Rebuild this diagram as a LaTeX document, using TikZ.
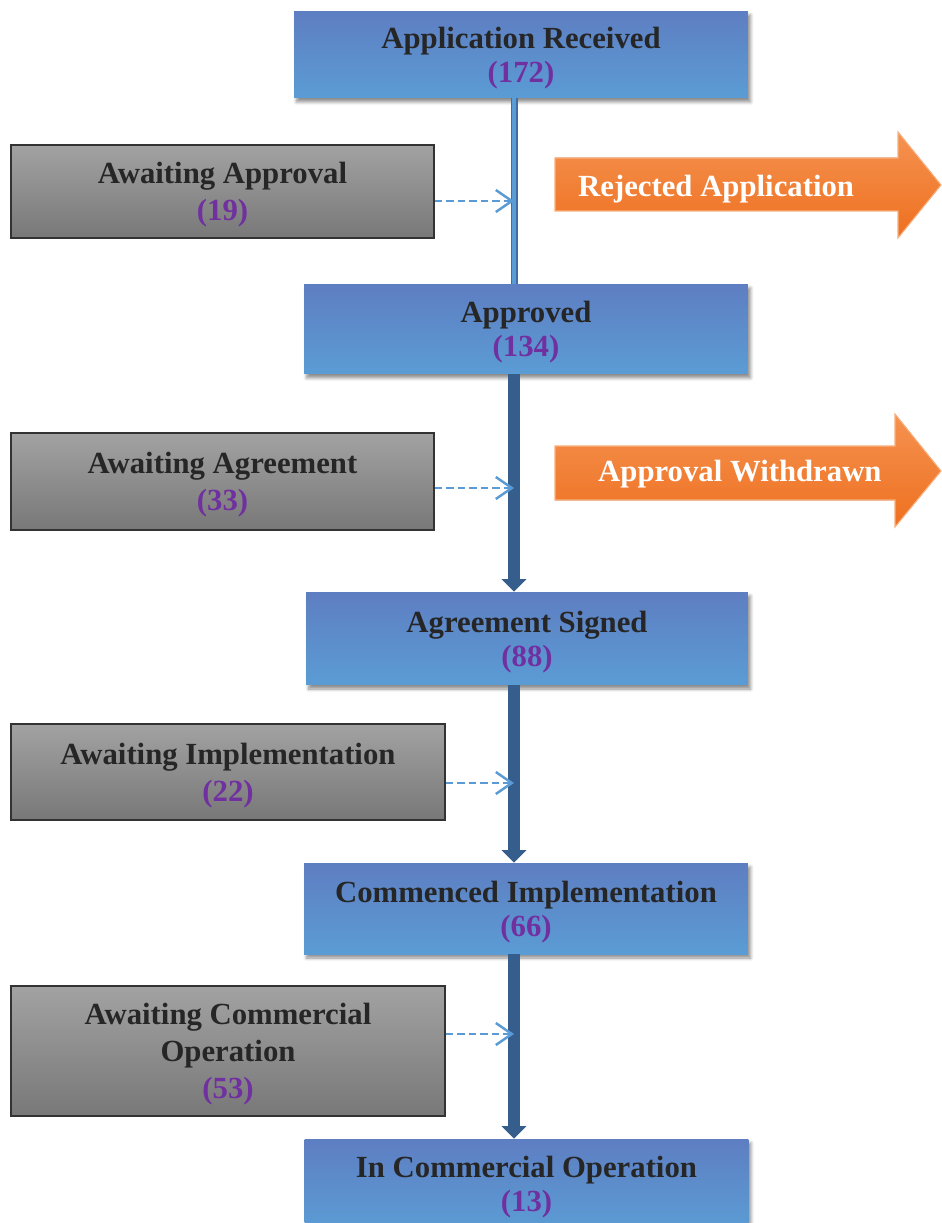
\documentclass[tikz,border=0pt]{standalone}
\usepackage{xcolor}
\usepackage{tikz}
\usepackage{fontspec}
\setmainfont{Liberation Serif}
\usetikzlibrary{arrows.meta,positioning,calc,shadows.blur}
\definecolor{stageTop}{RGB}{94,126,194}
\definecolor{stageBottom}{RGB}{91,156,213}
\definecolor{waitTop}{RGB}{162,162,162}
\definecolor{waitBottom}{RGB}{120,120,120}
\definecolor{countPurple}{RGB}{112,48,160}
\definecolor{labelDark}{RGB}{38,38,38}
\definecolor{spineDark}{RGB}{54,94,141}
\definecolor{spineEdge}{RGB}{62,110,165}
\definecolor{feedBlue}{RGB}{91,155,213}
\definecolor{exitTop}{RGB}{245,146,80}
\definecolor{exitBottom}{RGB}{238,112,32}
\definecolor{exitEdge}{RGB}{249,176,126}
\newcommand{\cnt}[1]{\textcolor{countPurple}{(#1)}}

\begin{document}
\begin{tikzpicture}[
  x=0.02cm,y=-0.02cm,
  stage/.style={rectangle,minimum width=8.88cm,minimum height=1.8cm,align=center,
    top color=stageTop,bottom color=stageBottom,text=labelDark,text depth=-0.8pt,
    font=\bfseries\fontsize{17.5}{19.5}\selectfont,
    blur shadow={shadow xshift=0.05cm,shadow yshift=-0.08cm,shadow opacity=45,shadow blur steps=6}},
  wait/.style={draw=black!80,line width=0.8pt,rectangle,minimum width=8.46cm,minimum height=1.86cm,align=center,
    top color=waitTop,bottom color=waitBottom,text=labelDark,text depth=-1.8pt,
    font=\bfseries\fontsize{17.5}{21}\selectfont},
  exit/.style={draw=exitEdge,line width=0.6pt,top color=exitTop,bottom color=exitBottom},
  exittext/.style={anchor=west,text=white,font=\bfseries\fontsize{17.5}{19.5}\selectfont},
  flow/.style={draw=spineDark,line width=0.24cm,-{Triangle[width=0.48cm,length=0.25cm]}},
  link/.style={draw=spineEdge,line width=1pt,double=stageBottom,double distance=0.07cm},
  feed/.style={feedBlue,line width=1.4pt,dash pattern=on 0.15cm off 0.08cm,-{Straight Barb[length=0.32cm,width=0.44cm]}}
]
  \useasboundingbox (0,0) rectangle (941,1223);

  % main column
  \node[stage,minimum width=9.08cm,minimum height=1.74cm] (rec) at (521,54.5) {Application Received\\\cnt{172}};
  \node[stage] (appr) at (526,329) {Approved\\\cnt{134}};
  \node[stage,minimum width=8.84cm,minimum height=1.86cm] (sign) at (527,638.5) {Agreement Signed\\\cnt{88}};
  \node[stage,minimum height=1.82cm] (comm) at (526,908.5) {Commenced Implementation\\\cnt{66}};
  \node[stage] (oper) at (526.5,1184) {In Commercial Operation\\\cnt{13}};
  \coordinate (spine) at (514,0);

  % waiting boxes
  \node[wait] (wa1) at (222.5,191.5) {Awaiting Approval\\\cnt{19}};
  \node[wait,minimum height=1.94cm] (wa2) at (222.5,481.5) {Awaiting Agreement\\\cnt{33}};
  \node[wait,minimum width=8.68cm,minimum height=1.92cm] (wa3) at (228,772) {Awaiting Implementation\\\cnt{22}};
  \node[wait,minimum width=8.68cm,minimum height=2.6cm] (wa4) at (228,1051) {Awaiting Commercial\\Operation\\\cnt{53}};

  % exits
  \fill[exit] (555,158) -- (898,158) -- (898,132) -- (941,185) -- (898,238) -- (898,211) -- (555,211) -- cycle;
  \node[exittext] (rej) at (572,189) {Rejected Application};
  \fill[exit] (555,446) -- (895,446) -- (895,414) -- (941,471) -- (895,527) -- (895,500) -- (555,500) -- cycle;
  \node[exittext] (wdr) at (592,474) {Approval Withdrawn};

  % spine
  \draw[link] (rec.south -| spine) -- (appr.north -| spine);
  \draw[flow] (appr.south -| spine) -- (sign.north -| spine);
  \draw[flow] (sign.south -| spine) -- (comm.north -| spine);
  \draw[flow] (comm.south -| spine) -- (oper.north -| spine);

  % feeds into the spine
  \draw[feed] ([yshift=-0.19cm]wa1.east) -- ([yshift=-0.19cm]wa1.east -| spine);
  \draw[feed] ([yshift=-0.13cm]wa2.east) -- ([yshift=-0.13cm]wa2.east -| spine);
  \draw[feed] ([yshift=-0.22cm]wa3.east) -- ([yshift=-0.22cm]wa3.east -| spine);
  \draw[feed] ([yshift=0.34cm]wa4.east) -- ([yshift=0.34cm]wa4.east -| spine);
\end{tikzpicture}
\end{document}
